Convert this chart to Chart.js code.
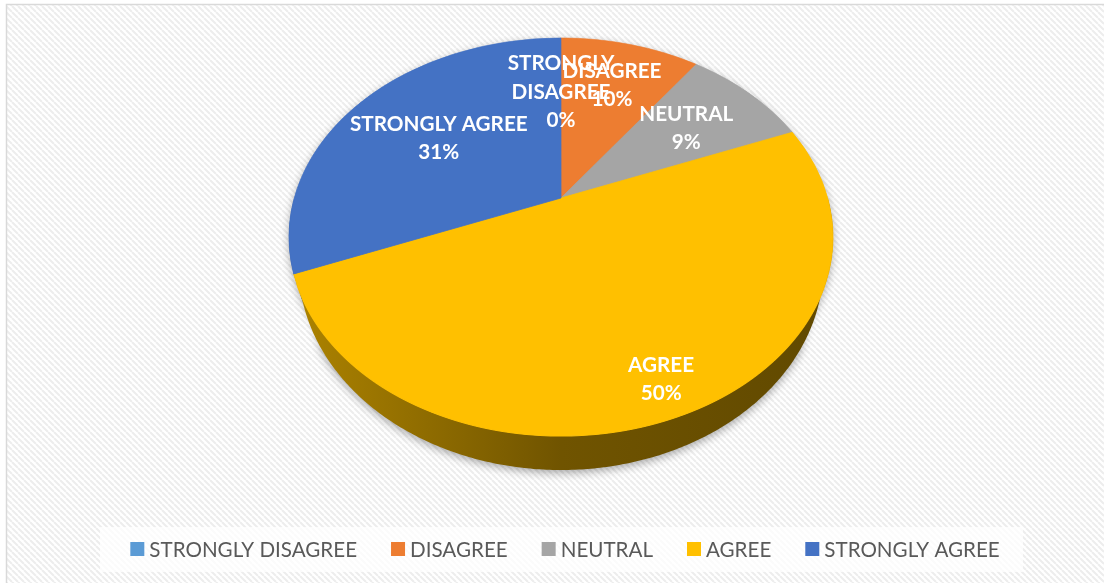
<!DOCTYPE html>
<html><head><meta charset="utf-8">
<script src="https://cdn.jsdelivr.net/npm/chart.js@4.4.1/dist/chart.umd.min.js"></script>
<style>
html,body{margin:0;padding:0;background:#fff;overflow:hidden;}
canvas{display:block;}
</style></head><body>
<canvas id="c" width="1104" height="583"></canvas>
<script>
// ---- data ----
const categories = ['STRONGLY DISAGREE', 'DISAGREE', 'NEUTRAL', 'AGREE', 'STRONGLY AGREE'];
const shareValues = [0, 10, 9, 50, 31];
const percentLabels = ['0%', '10%', '9%', '50%', '31%'];

// ---- style ----
const sliceColors = ['#5B9BD5', '#ED7D31', '#A5A5A5', '#FFC000', '#4472C4'];
const labelRadius = [0.62, 0.70, 0.64, 0.86, 0.59];
const W = 1104, H = 583;
const PERSP = {cx: 561, cy: 198, a: 266.7, b: 191.4, k: 0.196, depth: 27.3, sideScale: 0.965};
const LABEL_FONT = "bold 20.7px Lato";
const LEGEND_FONT = "20.6px Lato";

function proj(u, v) {
  const w = 1 - PERSP.k * v;
  return {x: PERSP.cx + PERSP.a * u / w, y: PERSP.cy + PERSP.b * v / w, w: w};
}
function rimTop(ph) { return proj(Math.cos(ph), Math.sin(ph)); }
function rimBottom(ph) {
  const p = rimTop(ph);
  return {x: PERSP.cx + (p.x - PERSP.cx) * PERSP.sideScale, y: p.y + PERSP.depth / p.w};
}
function shade(hex, f) {
  const n = parseInt(hex.slice(1), 16);
  const r = (n >> 16) & 255, g = (n >> 8) & 255, b = n & 255;
  return 'rgb(' + Math.round(r * f) + ',' + Math.round(g * f) + ',' + Math.round(b * f) + ')';
}

const bgPlugin = {
  id: 'bg',
  beforeDraw(chart) {
    const ctx = chart.ctx;
    ctx.save();
    ctx.fillStyle = '#fff';
    ctx.fillRect(0, 0, W, H);
    const t = document.createElement('canvas');
    t.width = 6; t.height = 6;
    const tc = t.getContext('2d');
    tc.fillStyle = '#fff'; tc.fillRect(0, 0, 6, 6);
    tc.strokeStyle = '#ededed'; tc.lineWidth = 2;
    for (const o of [-6, 0, 6]) { tc.beginPath(); tc.moveTo(o, 0); tc.lineTo(o + 6, 6); tc.stroke(); }
    ctx.fillStyle = ctx.createPattern(t, 'repeat');
    ctx.fillRect(7, 5, W - 7, H - 5);
    ctx.strokeStyle = '#d9d9d9'; ctx.lineWidth = 1.5;
    ctx.beginPath(); ctx.moveTo(6.5, H); ctx.lineTo(6.5, 4.5); ctx.lineTo(W, 4.5); ctx.stroke();
    ctx.fillStyle = 'rgba(255,255,255,0.75)';
    ctx.fillRect(100, 527, 923, 45);
    ctx.restore();
  }
};

const pie3d = {
  id: 'pie3d',
  beforeDatasetDraw(chart, args) {
    const ctx = chart.ctx;
    const arcs = chart.getDatasetMeta(args.index).data;
    const ax = arcs[0].x, ay = arcs[0].y, R = arcs[0].outerRadius;
    // soft drop shadow (shadow only, shape drawn off-canvas)
    ctx.save();
    ctx.translate(-3000, 0);
    ctx.shadowColor = 'rgba(0,0,0,0.33)'; ctx.shadowBlur = 8;
    ctx.shadowOffsetX = 3000; ctx.shadowOffsetY = 3;
    ctx.beginPath();
    const m = 0.6, N = 240;
    for (let j = 0; j <= N; j++) {
      const ph = (Math.PI - m) + (Math.PI + 2 * m) * j / N;
      const p = rimTop(ph);
      j ? ctx.lineTo(p.x, p.y) : ctx.moveTo(p.x, p.y);
    }
    for (let j = 0; j <= N; j++) {
      const ph = m + (Math.PI - 2 * m) * j / N;
      const p = rimBottom(ph);
      ctx.lineTo(p.x, p.y);
    }
    ctx.closePath();
    ctx.fillStyle = '#000';
    ctx.fill();
    ctx.restore();
    // side walls
    ctx.save();
    arcs.forEach((arc, i) => {
      if (!(arc.circumference > 0)) return;
      const s = Math.max(arc.startAngle, 0), e = Math.min(arc.endAngle, Math.PI);
      if (e <= s) return;
      const n = Math.max(4, Math.ceil((e - s) / 0.01));
      const top = [], bot = [];
      for (let j = 0; j <= n; j++) {
        const ph = s + (e - s) * j / n;
        top.push(rimTop(ph));
        bot.push(rimBottom(ph));
      }
      const col = sliceColors[i];
      const g = ctx.createLinearGradient(PERSP.cx - PERSP.a, 0, PERSP.cx + PERSP.a, 0);
      g.addColorStop(0, shade(col, 0.68));
      g.addColorStop(0.5, shade(col, 0.44));
      g.addColorStop(1, shade(col, 0.38));
      ctx.fillStyle = g;
      ctx.beginPath();
      top.forEach((p, j) => j ? ctx.lineTo(p.x, p.y) : ctx.moveTo(p.x, p.y));
      for (let j = bot.length - 1; j >= 0; j--) ctx.lineTo(bot[j].x, bot[j].y);
      ctx.closePath();
      ctx.fill();
    });
    ctx.restore();
    // top face in perspective, drawn row by row through the arc elements
    const yTop = Math.floor(PERSP.cy - PERSP.b / (1 + PERSP.k)) - 1;
    const yBot = Math.ceil(PERSP.cy + PERSP.b / (1 - PERSP.k)) + 1;
    for (let y = yTop; y < yBot; y++) {
      const ym = y + 0.5, d = ym - PERSP.cy;
      const v0 = d / (PERSP.b + PERSP.k * d);
      if (v0 < -1.03 || v0 > 1.03) continue;
      const w = 1 - PERSP.k * v0;
      const sx = PERSP.a / (w * R), sy = PERSP.b / (w * w * R);
      ctx.save();
      ctx.beginPath(); ctx.rect(0, y, W, 1); ctx.clip();
      ctx.setTransform(sx, 0, 0, sy, PERSP.cx - sx * ax, ym - sy * (ay + v0 * R));
      arcs.forEach(arc => arc.draw(ctx));
      ctx.restore();
    }
    return false;
  },
  afterDraw(chart) {
    const ctx = chart.ctx;
    const arcs = chart.getDatasetMeta(0).data;
    ctx.save();
    // data labels
    ctx.font = LABEL_FONT; ctx.fillStyle = '#fff';
    ctx.textAlign = 'center'; ctx.textBaseline = 'middle';
    arcs.forEach((arc, i) => {
      const mid = (arc.startAngle + arc.endAngle) / 2;
      const f = labelRadius[i];
      const p = proj(Math.cos(mid) * f, Math.sin(mid) * f);
      const cat = chart.data.labels[i];
      const lines = (shareValues[i] < 3 ? cat.split(' ') : [cat]).concat([percentLabels[i]]);
      const lh = 28.5;
      lines.forEach((ln, j) => ctx.fillText(ln, p.x, p.y + (j - (lines.length - 1) / 2) * lh));
    });
    // legend
    ctx.font = LEGEND_FONT; ctx.textAlign = 'left';
    const box = 14, gapText = 5, gapItem = 34;
    const widths = chart.data.labels.map(l => ctx.measureText(l).width);
    const total = widths.reduce((s, w) => s + box + gapText + w, 0) + gapItem * (widths.length - 1);
    let x = 565 - total / 2;
    const yc = 549;
    chart.data.labels.forEach((l, i) => {
      ctx.fillStyle = sliceColors[i];
      ctx.fillRect(x, yc - box / 2, box, box);
      ctx.fillStyle = '#595959';
      ctx.fillText(l, x + box + gapText, yc + 1);
      x += box + gapText + widths[i] + gapItem;
    });
    ctx.restore();
  }
};

new Chart(document.getElementById('c'), {
  type: 'pie',
  data: {
    labels: categories,
    datasets: [{
      data: shareValues,
      backgroundColor: sliceColors,
      borderColor: sliceColors,
      borderWidth: 1
    }]
  },
  options: {
    responsive: false,
    devicePixelRatio: 1,
    animation: false,
    layout: {padding: 0},
    plugins: {legend: {display: false}, tooltip: {enabled: false}}
  },
  plugins: [bgPlugin, pie3d]
});
</script>
</body></html>
